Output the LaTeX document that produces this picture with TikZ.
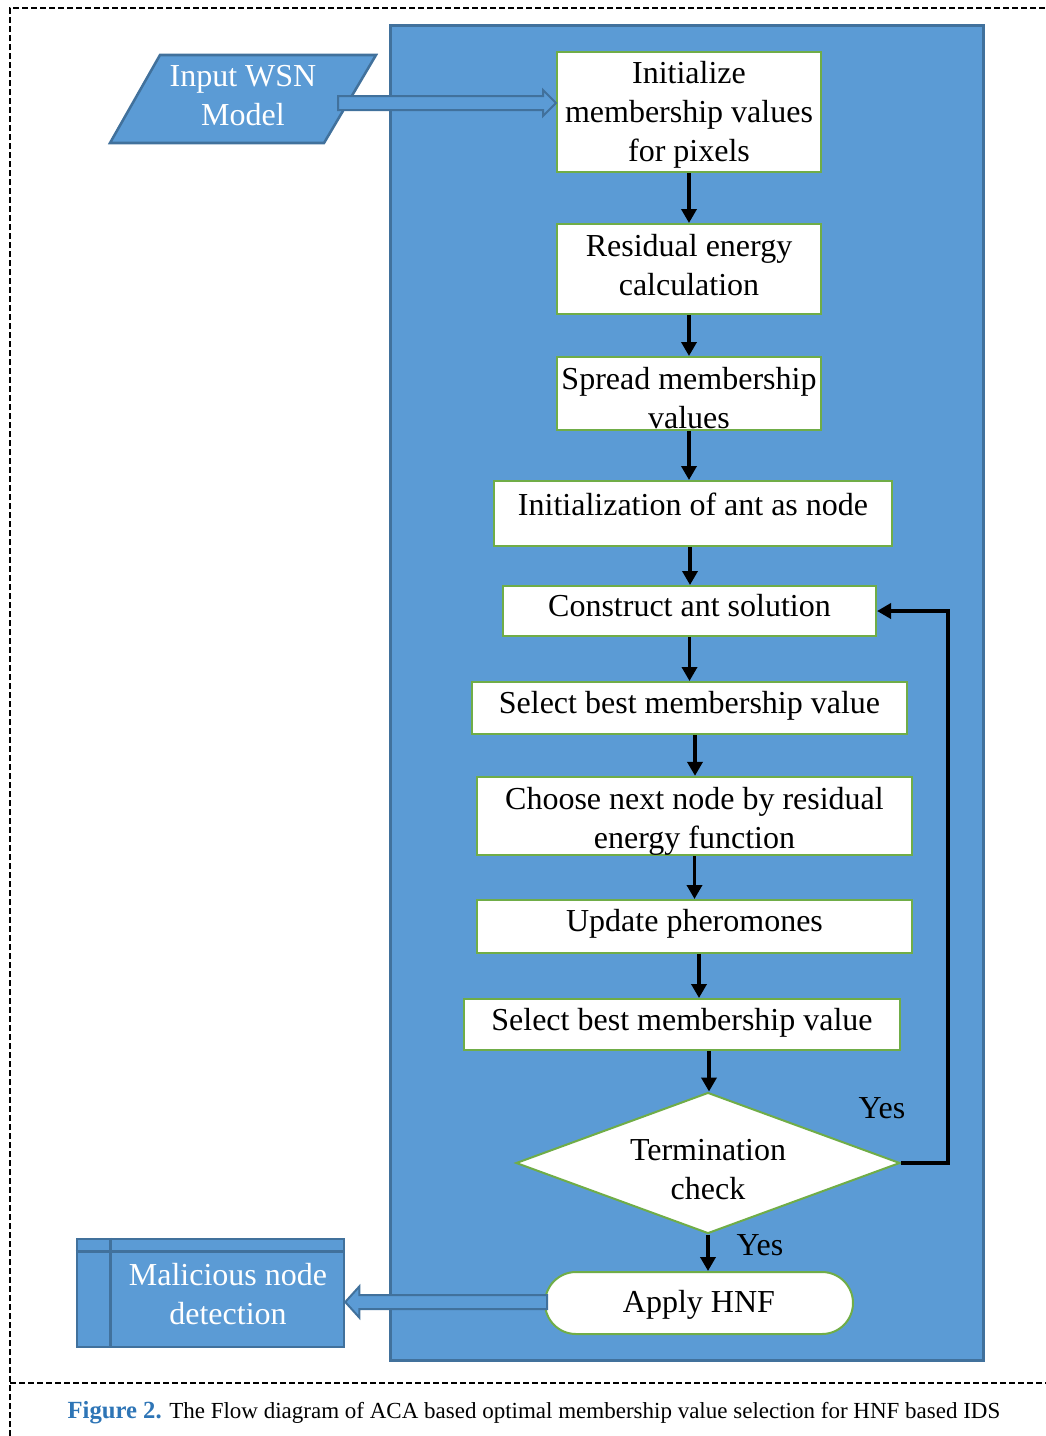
\documentclass[tikz,border=0pt]{standalone}
\usepackage{fontspec}
\setmainfont{Liberation Serif}
\usetikzlibrary{calc,shapes.geometric,shapes.misc,arrows.meta}
\definecolor{panel}{RGB}{91,155,213}
\definecolor{edgeblue}{RGB}{65,113,156}
\definecolor{stepgreen}{RGB}{112,173,71}
\definecolor{capblue}{RGB}{46,117,182}
% invisible struts that move a text block inside its box
\newcommand{\lowerby}[1]{\rule{0pt}{\dimexpr 16.6pt+#1\relax}}
\newcommand{\raiseby}[1]{\rule[-#1]{0pt}{0pt}}

\begin{document}
\begin{tikzpicture}[x=0.75pt,y=-0.75pt,
  big/.style={font=\fontsize{24pt}{29.25pt}\selectfont},
  stepbox/.style={big, draw=stepgreen, line width=1.5pt, fill=white, inner sep=0pt, align=center},
  oneline/.style={text height=16.8pt, text depth=8.4pt},
  flow/.style={line width=2.8pt, line join=miter, -{Triangle[width=11.25pt,length=10.5pt]}},
  barrow/.style={draw=edgeblue, fill=panel, line width=1.5pt, line join=miter},
  frame/.style={line width=1.1pt, dash pattern=on 4.5pt off 2.25pt},
  bluebox/.style={draw=edgeblue, fill=panel, line width=1.9pt},
]
\useasboundingbox (0,0) rectangle (1046,1436);

% dashed figure frame and caption rule
\draw[frame] (10,1436) -- (10,8) -- (1046,8);
\draw[frame] (10,1383) -- (1046,1383);

% process panel
\draw[draw=edgeblue, fill=panel, line width=2.25pt] (390,25) rectangle (983,1360);

% input data (parallelogram)
\draw[bluebox] (160,55) -- (376,55) -- (324,143) -- (110,143) -- cycle;
\node[big, text=white, align=center] (inp) at (243,96) {Input WSN\\Model};

% process steps
\node[stepbox, minimum width=198pt, minimum height=90pt] (b1) at (689,112)
  {\lowerby{4.5pt}Initialize\\membership values\\for pixels};
\node[stepbox, minimum width=198pt, minimum height=67.5pt] (b2) at (689,269)
  {Residual energy\\calculation\raiseby{6.8pt}};
\node[stepbox, minimum width=198pt, minimum height=54.75pt] (b3) at (689,393.5)
  {\lowerby{7.2pt}Spread membership\\values};
\node[stepbox, oneline, text depth=13.7pt, minimum width=298.5pt, minimum height=48.75pt] (b4) at (693,513.5)
  {Initialization of ant as node};
\node[stepbox, oneline, minimum width=279.75pt, minimum height=37.5pt] (b5) at (689.5,611)
  {Construct ant solution};
\node[stepbox, oneline, minimum width=326.25pt, minimum height=39pt] (b6) at (689.5,708)
  {Select best membership value};
\node[stepbox, minimum width=326.25pt, minimum height=58.75pt] (b7) at (694.5,816)
  {\lowerby{7.5pt}Choose next node by residual\\energy function};
\node[stepbox, oneline, text depth=9.9pt, minimum width=326.25pt, minimum height=39.75pt] (b8) at (694.5,926.5)
  {Update pheromones};
\node[stepbox, oneline, minimum width=327pt, minimum height=38.25pt] (b9) at (682,1024.5)
  {Select best membership value};
\node[stepbox, diamond, aspect=2.72, minimum width=288pt, minimum height=105.75pt] (dia) at (708,1163)
  {\lowerby{9pt}Termination\\check};
\node[stepbox, rounded rectangle, minimum width=231pt, minimum height=46.5pt] (hnf) at (699,1303)
  {\lowerby{3.5pt}Apply HNF};

% output (internal storage symbol)
\node[bluebox, minimum width=200.25pt, minimum height=81pt, inner sep=0pt] (mal) at (210.5,1293) {};
\draw[edgeblue, line width=1.9pt] ($(mal.north west)+(0,14)$) -- ($(mal.north east)+(0,14)$);
\draw[edgeblue, line width=1.9pt] ($(mal.north west)+(35,0)$) -- ($(mal.south west)+(35,0)$);
\node[big, text=white, align=center] (maltxt) at (228,1294) {Malicious node\\detection};

% flow connectors
\coordinate (a4) at ($(b4.south)+(-3,0)$);
\coordinate (a6) at ($(b6.south)+(5.5,0)$);
\coordinate (a8) at ($(b8.south)+(4.5,0)$);
\coordinate (a9) at ($(b9.south)+(27,0)$);
\draw[flow] (b1.south) -- (b1.south |- b2.north);
\draw[flow] (b2.south) -- (b2.south |- b3.north);
\draw[flow] (b3.south) -- (b3.south |- b4.north);
\draw[flow] (a4) -- (a4 |- b5.north);
\draw[flow] (b5.south) -- (b5.south |- b6.north);
\draw[flow] (a6) -- (a6 |- b7.north);
\draw[flow] (b7.south) -- (b7.south |- b8.north);
\draw[flow] (a8) -- (a8 |- b9.north);
\draw[flow] (a9) -- (a9 |- dia.north);
\draw[flow] (dia.south) -- (dia.south |- hnf.north);
\coordinate (lp) at (948,1163);
\draw[flow] (dia.east) -- (lp) |- (b5.east);

\node[big] (yes1) at (882,1108) {Yes};
\node[big] (yes2) at (760,1245) {Yes};

% block arrows
\coordinate (ia) at (338,103);
\coordinate (ib) at (b1.west |- ia);
\draw[barrow] ($(ia)+(0,-7)$) -- ($(ib)+(-13,-7)$) -- ($(ib)+(-13,-13)$) -- (ib)
  -- ($(ib)+(-13,13)$) -- ($(ib)+(-13,7)$) -- ($(ia)+(0,7)$) -- cycle;
\coordinate (oa) at ($(hnf.west)+(3,-1)$);
\coordinate (ob) at (mal.east |- oa);
\draw[barrow] ($(oa)+(0,-7)$) -- ($(ob)+(14,-7)$) -- ($(ob)+(14,-15.5)$) -- (ob)
  -- ($(ob)+(14,15.5)$) -- ($(ob)+(14,7)$) -- ($(oa)+(0,7)$) -- cycle;

% caption
\node[anchor=base east, inner sep=0pt, text=capblue, font=\fontsize{18.5pt}{22pt}\selectfont\bfseries] (fig) at (162,1418) {Figure 2.};
\node[anchor=base west, inner sep=0pt, font=\fontsize{17.25pt}{21pt}\selectfont] (cap) at (169,1418)
  {The Flow diagram of ACA based optimal membership value selection for HNF based IDS};
\end{tikzpicture}
\end{document}
